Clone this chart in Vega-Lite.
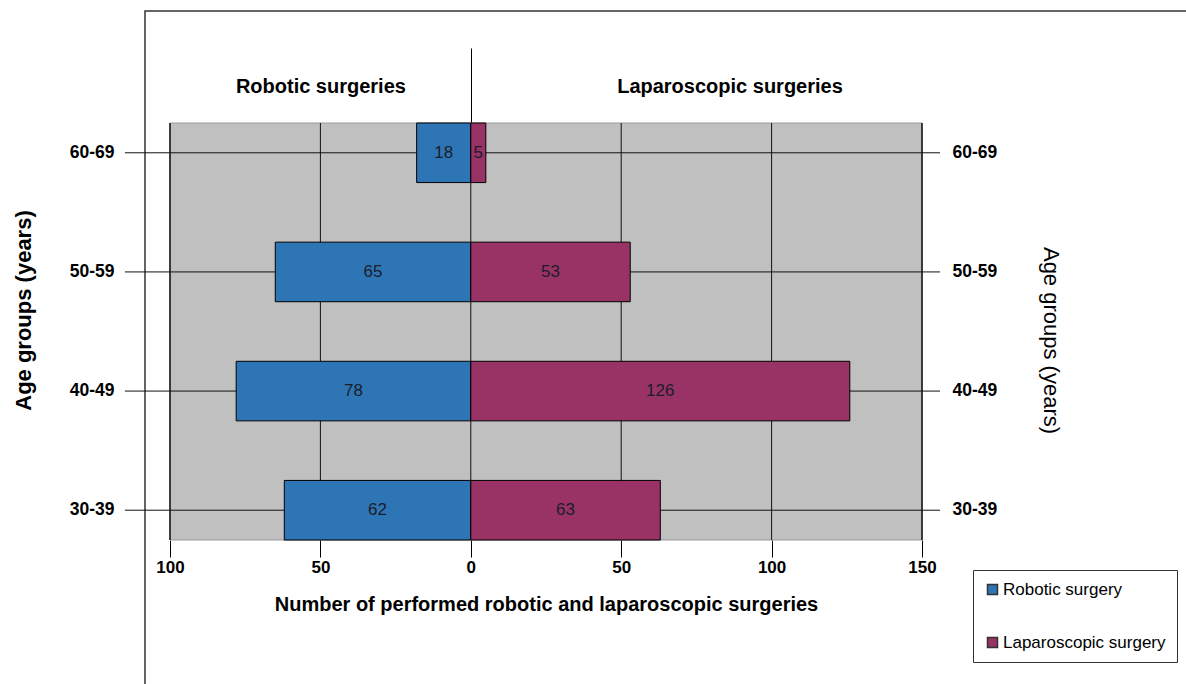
{
  "$schema": "https://vega.github.io/schema/vega-lite/v6.json",
  "width": 1042,
  "height": 674,
  "autosize": {"type": "none"},
  "padding": {"left": 145, "top": 11, "right": 0, "bottom": 0},
  "background": "white",
  "config": {
    "font": "Liberation Sans",
    "view": {"stroke": "#333333", "strokeWidth": 1.5},
    "axis": {"labelFont": "Liberation Sans", "titleFont": "Liberation Sans", "labelColor": "#000000", "titleColor": "#000000"},
    "legend": {"labelFont": "Liberation Sans"}
  },
  "data": {
    "values": [
      {"age": "60-69", "type": "Robotic surgery", "value": -18, "count": 18},
      {"age": "50-59", "type": "Robotic surgery", "value": -65, "count": 65},
      {"age": "40-49", "type": "Robotic surgery", "value": -78, "count": 78},
      {"age": "30-39", "type": "Robotic surgery", "value": -62, "count": 62},
      {"age": "60-69", "type": "Laparoscopic surgery", "value": 5, "count": 5},
      {"age": "50-59", "type": "Laparoscopic surgery", "value": 53, "count": 53},
      {"age": "40-49", "type": "Laparoscopic surgery", "value": 126, "count": 126},
      {"age": "30-39", "type": "Laparoscopic surgery", "value": 63, "count": 63}
    ]
  },
  "layer": [
    {
      "layer": [
        {
          "data": {"values": [{"panel": "plot area"}]},
          "encoding": {
            "y": {"datum": "60-69", "type": "nominal", "bandPosition": 0, "axis": null},
            "y2": {"datum": "30-39", "bandPosition": 1}
          },
          "layer": [
            {
              "mark": {"type": "rect", "fill": "#C0C0C0", "stroke": "#9a9a9a", "strokeWidth": 1},
              "encoding": {
                "x": {"datum": -100, "type": "quantitative", "scale": {"domain": [-100, 150], "range": [25, 777], "nice": false, "zero": false}, "axis": null},
                "x2": {"datum": 150}
              }
            },
            {"mark": {"type": "rule", "color": "#111111", "strokeWidth": 1.5}, "encoding": {"x": {"datum": -100, "type": "quantitative", "axis": null}}},
            {"mark": {"type": "rule", "color": "#111111", "strokeWidth": 1}, "encoding": {"x": {"datum": -50, "type": "quantitative", "axis": null}}},
            {"mark": {"type": "rule", "color": "#111111", "strokeWidth": 1}, "encoding": {"x": {"datum": 0, "type": "quantitative", "axis": null}}},
            {"mark": {"type": "rule", "color": "#111111", "strokeWidth": 1}, "encoding": {"x": {"datum": 50, "type": "quantitative", "axis": null}}},
            {"mark": {"type": "rule", "color": "#111111", "strokeWidth": 1}, "encoding": {"x": {"datum": 100, "type": "quantitative", "axis": null}}},
            {"mark": {"type": "rule", "color": "#111111", "strokeWidth": 1.5}, "encoding": {"x": {"datum": 150, "type": "quantitative", "axis": null}}}
          ]
        },
        {
          "transform": [{"filter": "datum.type === 'Robotic surgery'"}],
          "mark": {"type": "rule", "color": "#111111", "strokeWidth": 1},
          "encoding": {
            "x": {"datum": -115, "type": "quantitative", "scale": {"domain": [-100, 150], "range": [25, 777], "nice": false, "zero": false}, "axis": null},
            "x2": {"datum": 156},
            "y": {"field": "age", "type": "nominal", "bandPosition": 0.5, "axis": null}
          }
        }
      ]
    },
    {
      "mark": {"type": "bar", "stroke": "#000000", "strokeWidth": 1, "opacity": 1},
      "encoding": {
        "y": {
          "field": "age",
          "type": "nominal",
          "scale": {"domain": ["60-69", "50-59", "40-49", "30-39"], "range": [112, 529], "paddingInner": 0.5, "paddingOuter": 0},
          "axis": {
            "orient": "left",
            "offset": -25,
            "ticks": false,
            "domain": false,
            "grid": false,
            "labelPadding": 56,
            "labelFontSize": 17.5,
            "labelFontWeight": "bold",
            "title": "Age groups (years)",
            "titleFontSize": 22,
            "titleFontWeight": "bold",
            "titlePadding": 34,
            "titleY": 299
          }
        },
        "x": {
          "field": "value",
          "type": "quantitative",
          "stack": null,
          "scale": {"domain": [-100, 150], "range": [25, 777], "nice": false, "zero": false},
          "axis": {
            "orient": "bottom",
            "offset": -145,
            "values": [-100, -50, 0, 50, 100, 150],
            "labelExpr": "abs(datum.value)",
            "grid": false,
            "domain": false,
            "ticks": true,
            "tickSize": 17,
            "tickColor": "#000000",
            "tickWidth": 1,
            "labelFontSize": 17,
            "labelFontWeight": "bold",
            "labelPadding": 2,
            "labelFlush": false,
            "labelOverlap": false,
            "title": "Number of performed robotic and laparoscopic surgeries",
            "titleFontSize": 20,
            "titleFontWeight": "bold",
            "titlePadding": 19
          }
        },
        "color": {
          "field": "type",
          "type": "nominal",
          "scale": {"domain": ["Robotic surgery", "Laparoscopic surgery"], "range": ["#2E75B6", "#993366"]},
          "legend": {
            "orient": "none",
            "legendX": 828,
            "legendY": 559,
            "title": null,
            "padding": 11,
            "rowPadding": 35,
            "strokeColor": "#333333",
            "fillColor": "white",
            "symbolType": "square",
            "symbolSize": 100,
            "symbolStrokeColor": "#333333",
            "labelFontSize": 17,
            "labelColor": "#000000",
            "labelOffset": 2,
            "labelLimit": 0
          }
        }
      }
    },
    {
      "mark": {"type": "text", "fontSize": 17, "color": "#1c1c2a", "align": "center", "baseline": "middle"},
      "encoding": {
        "y": {
          "field": "age",
          "type": "nominal",
          "axis": {
            "orient": "right",
            "offset": -265,
            "ticks": false,
            "domain": false,
            "grid": false,
            "labelPadding": 30,
            "labelFontSize": 17.5,
            "labelFontWeight": "bold",
            "title": "Age groups (years)",
            "titleFontSize": 22,
            "titleFontWeight": "normal",
            "titlePadding": 42,
            "titleY": 329
          }
        },
        "x": {
          "field": "value",
          "type": "quantitative",
          "scale": {"domain": [-200, 300], "range": [25, 777], "nice": false, "zero": false},
          "axis": {
            "orient": "top",
            "offset": -112,
            "values": [-100, 0, 172],
            "labelExpr": "datum.value === -100 ? 'Robotic surgeries' : (datum.value === 172 ? 'Laparoscopic surgeries' : '')",
            "grid": false,
            "domain": false,
            "ticks": true,
            "tickSize": 75,
            "tickColor": "#000000",
            "tickWidth": 1,
            "tickOpacity": {"condition": {"test": "datum.value === 0", "value": 1}, "value": 0},
            "labelFontSize": 20,
            "labelFontWeight": "bold",
            "labelPadding": -44,
            "labelBaseline": "alphabetic",
            "labelLimit": 0,
            "labelFlush": false,
            "labelOverlap": false,
            "title": null
          }
        },
        "text": {"field": "count", "type": "quantitative"}
      }
    }
  ],
  "resolve": {"scale": {"x": "independent"}, "axis": {"x": "independent", "y": "independent"}}
}
